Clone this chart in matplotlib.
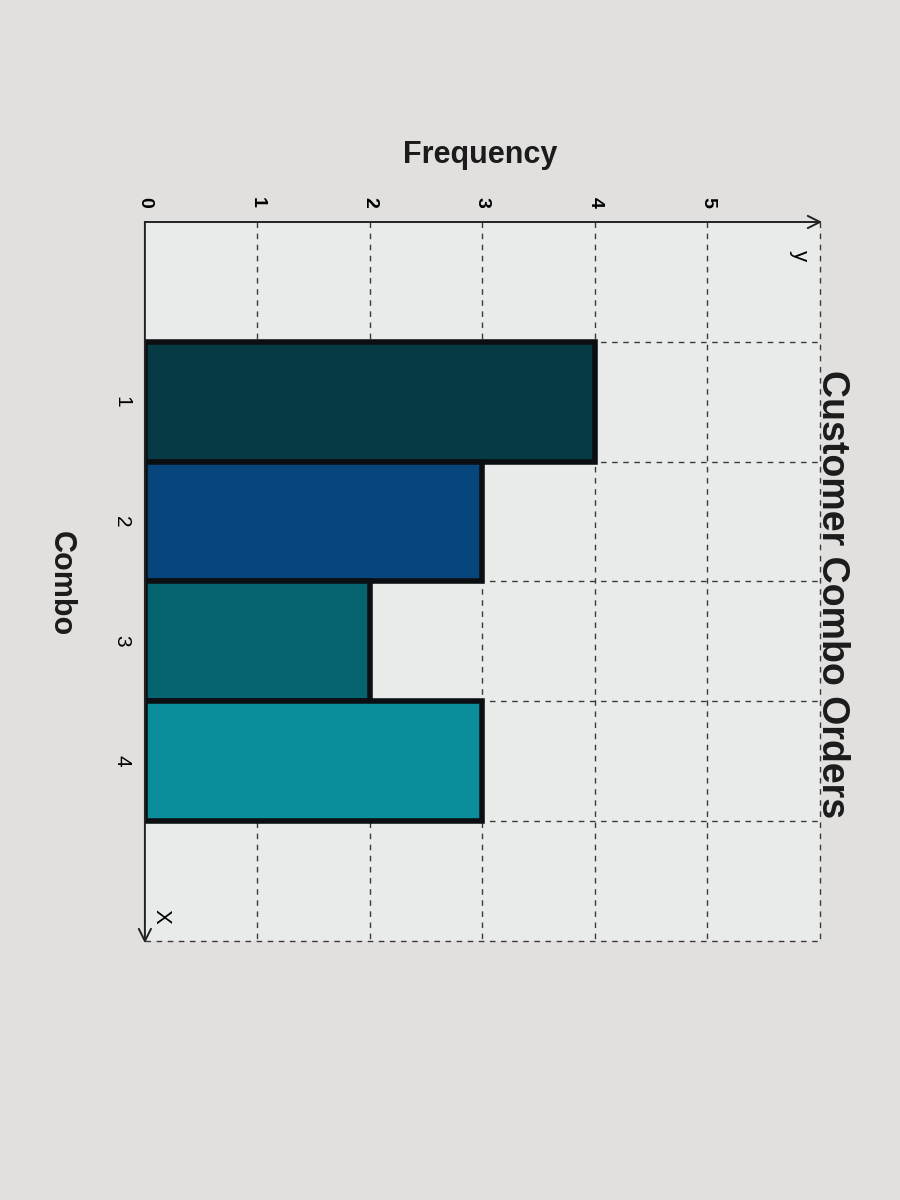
import matplotlib.pyplot as plt

plt.rcParams['font.family'] = ['Liberation Sans', 'DejaVu Sans']

# data
combos = [1, 2, 3, 4]
freq = [4, 3, 2, 3]
bar_colors = ['#063a45', '#07467c', '#066470', '#0b8e9c']
freq_ticks = [0, 1, 2, 3, 4, 5]

fig = plt.figure(figsize=(9, 12), dpi=100, facecolor='#e1e0de')
ax = fig.add_axes([0.161, 0.216, 0.75, 0.599])
ax.set_facecolor('#e9ebea')

# chart is shown turned on its side: combos run down, frequency runs right
ax.barh(combos, freq, height=1, color=bar_colors, edgecolor='#0b0f12',
        linewidth=4, zorder=3)
ax.set_xlim(0, 6)
ax.set_ylim(5.5, -0.5)

# dashed grid (outer lines sit on the axes edge, so don't clip them)
dash = (0, (4, 4))
ax.vlines(range(1, 7), -0.5, 5.5, colors='#3a3a3a', linestyles=dash, lw=1,
          zorder=1, clip_on=False)
ax.hlines([c + 0.5 for c in range(0, 6)], 0, 6, colors='#3a3a3a',
          linestyles=dash, lw=1, zorder=1, clip_on=False)

for s in ['right', 'bottom', 'top', 'left']:
    ax.spines[s].set_visible(False)

# solid axes with arrow heads
ax.annotate('', xy=(6.02, -0.5), xytext=(0, -0.5), annotation_clip=False,
            arrowprops=dict(arrowstyle='->', lw=1.4, color='#222222',
                            mutation_scale=22, shrinkA=0, shrinkB=0))
ax.annotate('', xy=(0, 5.52), xytext=(0, -0.5), annotation_clip=False,
            arrowprops=dict(arrowstyle='->', lw=1.4, color='#222222',
                            mutation_scale=22, shrinkA=0, shrinkB=0))
ax.text(5.82, -0.22, 'y', rotation=-90, fontsize=16, ha='center', va='center')
ax.text(0.14, 5.3, 'X', rotation=-90, fontsize=16, ha='center', va='center')

ax.xaxis.tick_top()
ax.set_xticks(freq_ticks)
ax.set_xticklabels([str(v) for v in freq_ticks], rotation=-90, fontsize=14,
                   fontweight='bold')
ax.set_yticks(combos)
ax.set_yticklabels([str(c) for c in combos], rotation=-90, fontsize=15,
                   va='center')
ax.tick_params(length=0, pad=10)

fig.text(0.925, 0.505, 'Customer Combo Orders', rotation=-90, fontsize=27,
         fontweight='bold', ha='center', va='center', color='#1b1b1b')
fig.text(0.533, 0.871, 'Frequency', fontsize=22, fontweight='bold',
         ha='center', va='center', color='#1b1b1b')
fig.text(0.067, 0.514, 'Combo', rotation=-90, fontsize=22, fontweight='bold',
         ha='center', va='center', color='#1b1b1b')

fig.savefig('out.png', dpi=100, facecolor=fig.get_facecolor())
